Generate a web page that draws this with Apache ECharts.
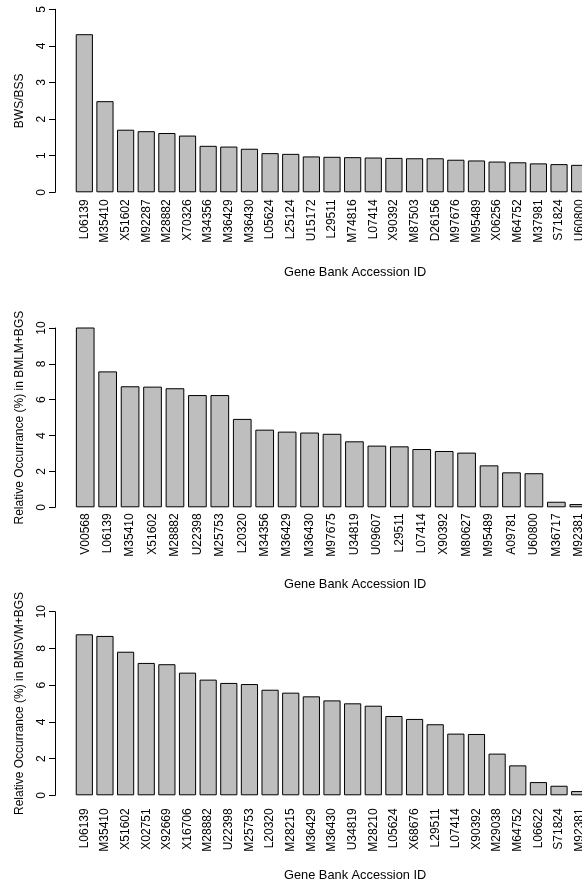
<!DOCTYPE html>
<html>
<head>
<meta charset="utf-8">
<script src="https://cdn.jsdelivr.net/npm/echarts@6.0.0/dist/echarts.min.js"></script>
<style>
  html, body { margin: 0; padding: 0; background: #fff; overflow: hidden; }
  #chart { width: 640px; height: 885px; }
</style>
</head>
<body>
<div id="chart"></div>
<script>
  // panel 1: BWS/BSS ratio
  const genes1 = ['L06139', 'M35410', 'X51602', 'M92287', 'M28882', 'X70326', 'M34356', 'M36429', 'M36430', 'L05624',
    'L25124', 'U15172', 'L29511', 'M74816', 'L07414', 'X90392', 'M87503', 'D26156', 'M97676', 'M95489',
    'X06256', 'M64752', 'M37981', 'S71824', 'U60800']
  const bwsBss = [4.32, 2.49, 1.71, 1.67, 1.62, 1.55, 1.27, 1.25, 1.19, 1.07,
    1.05, 0.98, 0.97, 0.96, 0.95, 0.94, 0.93, 0.93, 0.89, 0.87,
    0.84, 0.82, 0.79, 0.77, 0.75]

  // panel 2: relative occurrance in BMLM+BGS
  const genes2 = ['V00568', 'L06139', 'M35410', 'X51602', 'M28882', 'U22398', 'M25753', 'L20320', 'M34356', 'M36429',
    'M36430', 'M97675', 'U34819', 'U09607', 'L29511', 'L07414', 'X90392', 'M80627', 'M95489', 'A09781',
    'U60800', 'M36717', 'M92381']
  const occBmlm = [10.15, 7.58, 6.75, 6.73, 6.64, 6.26, 6.26, 4.93, 4.33, 4.22,
    4.17, 4.10, 3.68, 3.44, 3.40, 3.25, 3.14, 3.05, 2.34, 1.95,
    1.90, 0.31, 0.18]

  // panel 3: relative occurrance in BMSVM+BGS
  const genes3 = ['L06139', 'M35410', 'X51602', 'X02751', 'X92669', 'X16706', 'M28882', 'U22398', 'M25753', 'L20320',
    'M28215', 'M36429', 'M36430', 'U34819', 'M28210', 'L05624', 'X68676', 'L29511', 'L07414', 'X90392',
    'M29038', 'M64752', 'L06622', 'S71824', 'M92381']
  const occBmsvm = [8.77, 8.68, 7.82, 7.21, 7.14, 6.68, 6.30, 6.12, 6.06, 5.75,
    5.59, 5.39, 5.17, 5.01, 4.88, 4.32, 4.16, 3.87, 3.36, 3.34,
    2.27, 1.63, 0.72, 0.52, 0.23]

  const xTitle = 'Gene Bank Accession ID'
  const font = "'Liberation Sans', Arial, sans-serif"

  const panels = [
    { cats: genes1, vals: bwsBss, yName: 'BWS/BSS', max: 5, step: 1, top: 9.3, height: 183, labelGap: 7, titleTop: 266 },
    { cats: genes2, vals: occBmlm, yName: 'Relative Occurrance (%) in BMLM+BGS', max: 10, step: 2, top: 328, height: 179.3, labelGap: 6, titleTop: 578 },
    { cats: genes3, vals: occBmsvm, yName: 'Relative Occurrance (%) in BMSVM+BGS', max: 10, step: 2, top: 611.7, height: 183.6, labelGap: 13, titleTop: 869 }
  ]

  const chart = echarts.init(document.getElementById('chart'))

  const option = {
    animation: false,
    backgroundColor: '#fff',
    textStyle: { fontFamily: font },
    title: panels.map(p => ({
      text: xTitle,
      left: 284,
      top: p.titleTop,
      padding: 0,
      textStyle: { fontSize: 12.8, fontWeight: 'normal', color: '#000', fontFamily: font }
    })),
    grid: panels.map(p => ({
      left: 74,
      width: 516,
      top: p.top,
      height: p.height,
      outerBoundsMode: 'none'
    })),
    xAxis: panels.map((p, i) => ({
      type: 'category',
      gridIndex: i,
      data: p.cats,
      axisLine: { show: false },
      axisTick: { show: false },
      axisLabel: {
        rotate: 90,
        interval: 0,
        margin: p.labelGap,
        fontSize: 12,
        color: '#000',
        fontFamily: font,
        hideOverlap: false
      }
    })),
    yAxis: panels.map((p, i) => ({
      type: 'value',
      gridIndex: i,
      min: 0,
      max: p.max,
      interval: p.step,
      offset: 19,
      name: p.yName,
      nameLocation: 'middle',
      nameGap: 29,
      nameTextStyle: { fontSize: 12, color: '#000', fontFamily: font },
      splitLine: { show: false },
      axisLine: { show: true, lineStyle: { color: '#000', width: 1 } },
      axisTick: { show: true, length: 6, lineStyle: { color: '#000' } },
      axisLabel: { rotate: 90, margin: 7, fontSize: 12, color: '#000', fontFamily: font }
    })),
    series: panels.map((p, i) => ({
      type: 'bar',
      xAxisIndex: i,
      yAxisIndex: i,
      data: p.vals,
      barWidth: '83.3%',
      itemStyle: { color: '#bebebe', borderColor: '#000', borderWidth: 1 }
    }))
  }

  chart.setOption(option)
</script>
</body>
</html>
